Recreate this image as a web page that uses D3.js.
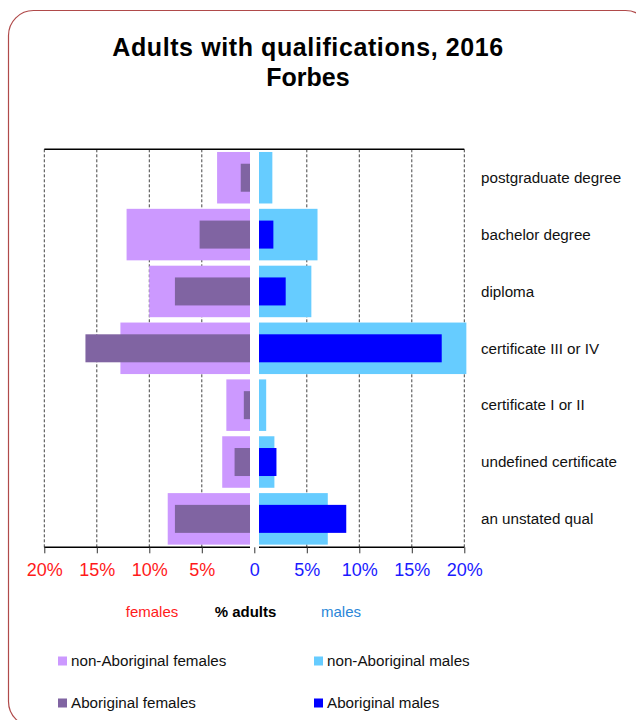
<!DOCTYPE html>
<html>
<head>
<meta charset="utf-8">
<script src="https://cdn.jsdelivr.net/npm/d3@7"></script>
<style>
  html, body { margin: 0; padding: 0; background: #fff; }
  svg { display: block; font-family: "Liberation Sans", Arial, sans-serif; }
</style>
</head>
<body>
<svg id="chart" width="636" height="720"></svg>
<script>
// Qualification categories, top to bottom
const categories = [
  "postgraduate degree",
  "bachelor degree",
  "diploma",
  "certificate III or IV",
  "certificate I or II",
  "undefined certificate",
  "an unstated qual"
];

// Percentage of adults in each group
const nonAboriginalFemales = [3.2, 12.0, 9.8, 12.6, 2.3, 2.7, 8.0];
const aboriginalFemales    = [0.9, 4.9, 7.3, 16.0, 0.6, 1.5, 7.3];
const nonAboriginalMales   = [1.3, 5.7, 5.1, 20.2, 0.7, 1.5, 6.7];
const aboriginalMales      = [0.0, 1.4, 2.6, 17.8, 0.0, 1.7, 8.5];

// Axis ticks and their labels
const tickValues = [-20, -15, -10, -5, 0, 5, 10, 15, 20];
const tickLabels = ["20%", "15%", "10%", "5%", "0", "5%", "10%", "15%", "20%"];

const svg = d3.select("#chart");

// Rounded frame
svg.append("rect")
  .attr("x", 8.5).attr("y", 10.5)
  .attr("width", 642).attr("height", 716)
  .attr("rx", 25).attr("ry", 25)
  .attr("fill", "#fff")
  .attr("stroke", "#b04a4a")
  .attr("stroke-width", 1.2);

// Title
const title = svg.append("text")
  .attr("text-anchor", "middle")
  .attr("font-weight", "bold")
  .attr("font-size", 25)
  .attr("fill", "#000");
title.append("tspan").attr("x", 308).attr("y", 56)
  .attr("letter-spacing", 0.6)
  .text("Adults with qualifications, 2016");
title.append("tspan").attr("x", 308).attr("y", 86).text("Forbes");

// Scales
const plotTop = 149.3, plotBottom = 547.3;
const axisX = d3.scaleLinear().domain([-20, 20]).range([44.3, 464.3]);
const xF = d3.scaleLinear().domain([0, 20]).range([250, 44.3]);
const xM = d3.scaleLinear().domain([0, 20]).range([259, 464.3]);
const y = d3.scaleBand().domain(categories).range([plotTop, plotBottom])
  .paddingInner(0.094).paddingOuter(0.047);
const innerH = 28;

// Gridlines
svg.append("g").selectAll("line")
  .data(tickValues.filter(v => v !== 0))
  .join("line")
  .attr("x1", d => axisX(d)).attr("x2", d => axisX(d))
  .attr("y1", plotTop).attr("y2", plotBottom)
  .attr("stroke", "#444")
  .attr("stroke-width", 1)
  .attr("stroke-dasharray", "3,2");

// Top border
svg.append("line")
  .attr("x1", axisX(-20)).attr("x2", axisX(20))
  .attr("y1", plotTop).attr("y2", plotTop)
  .attr("stroke", "#000").attr("stroke-width", 1.5);

const rows = categories.map((c, i) => ({
  cat: c,
  nf: nonAboriginalFemales[i],
  af: aboriginalFemales[i],
  nm: nonAboriginalMales[i],
  am: aboriginalMales[i]
}));

const bars = svg.append("g");

// Females (left panel)
bars.selectAll(".nf").data(rows).join("rect")
  .attr("class", "nf")
  .attr("x", d => xF(d.nf))
  .attr("width", d => xF(0) - xF(d.nf))
  .attr("y", d => y(d.cat))
  .attr("height", y.bandwidth())
  .attr("fill", "#cc99ff");

bars.selectAll(".af").data(rows.filter(d => d.af > 0)).join("rect")
  .attr("class", "af")
  .attr("x", d => xF(d.af))
  .attr("width", d => xF(0) - xF(d.af))
  .attr("y", d => y(d.cat) + (y.bandwidth() - innerH) / 2)
  .attr("height", innerH)
  .attr("fill", "#8064a2");

// Males (right panel)
bars.selectAll(".nm").data(rows).join("rect")
  .attr("class", "nm")
  .attr("x", xM(0))
  .attr("width", d => xM(d.nm) - xM(0))
  .attr("y", d => y(d.cat))
  .attr("height", y.bandwidth())
  .attr("fill", "#66ccff");

bars.selectAll(".am").data(rows.filter(d => d.am > 0)).join("rect")
  .attr("class", "am")
  .attr("x", xM(0))
  .attr("width", d => xM(d.am) - xM(0))
  .attr("y", d => y(d.cat) + (y.bandwidth() - innerH) / 2)
  .attr("height", innerH)
  .attr("fill", "#0000ff");

// Bottom axis lines for each panel
svg.append("line")
  .attr("x1", xF(20)).attr("x2", xF(0))
  .attr("y1", plotBottom).attr("y2", plotBottom)
  .attr("stroke", "#000").attr("stroke-width", 1.5);
svg.append("line")
  .attr("x1", xM(0)).attr("x2", xM(20))
  .attr("y1", plotBottom).attr("y2", plotBottom)
  .attr("stroke", "#000").attr("stroke-width", 1.5);

// Axis ticks and labels
const axis = d3.axisBottom(axisX)
  .tickValues(tickValues)
  .tickSize(6)
  .tickPadding(10)
  .tickFormat((d, i) => tickLabels[i]);
const axisG = svg.append("g")
  .attr("transform", `translate(0,${plotBottom})`)
  .call(axis);
axisG.select(".domain").remove();
axisG.selectAll(".tick line").attr("stroke", "#333");
axisG.selectAll(".tick text")
  .attr("font-family", "'Liberation Sans', Arial, sans-serif")
  .attr("font-size", 18)
  .attr("fill", d => d < 0 ? "#ff1a1a" : "#1a1aff");

// Category labels
svg.append("g").selectAll("text")
  .data(categories)
  .join("text")
  .attr("x", 481)
  .attr("y", d => y(d) + y.bandwidth() / 2)
  .attr("dy", "0.35em")
  .attr("font-size", 15.2)
  .attr("fill", "#111")
  .text(d => d);

// Axis caption
const caption = [
  { text: "females", x: 152, color: "#ff1a1a", weight: "normal" },
  { text: "% adults", x: 245.5, color: "#000", weight: "bold" },
  { text: "males", x: 341, color: "#2a86d8", weight: "normal" }
];
svg.append("g").selectAll("text")
  .data(caption)
  .join("text")
  .attr("x", d => d.x)
  .attr("y", 612)
  .attr("dy", "0.35em")
  .attr("text-anchor", "middle")
  .attr("font-size", 15)
  .attr("font-weight", d => d.weight)
  .attr("fill", d => d.color)
  .text(d => d.text);

// Legend
const legendItems = [
  { label: "non-Aboriginal females", color: "#cc99ff", x: 58, y: 661 },
  { label: "non-Aboriginal males", color: "#66ccff", x: 314, y: 661 },
  { label: "Aboriginal females", color: "#8064a2", x: 58, y: 703 },
  { label: "Aboriginal males", color: "#0000ff", x: 314, y: 703 }
];
const legend = svg.append("g").selectAll("g")
  .data(legendItems)
  .join("g")
  .attr("transform", d => `translate(${d.x},${d.y})`);
legend.append("rect")
  .attr("x", 0).attr("y", -4.5)
  .attr("width", 9).attr("height", 9)
  .attr("fill", d => d.color);
legend.append("text")
  .attr("x", 13)
  .attr("dy", "0.35em")
  .attr("font-size", 15.2)
  .attr("fill", "#111")
  .text(d => d.label);
</script>
</body>
</html>
